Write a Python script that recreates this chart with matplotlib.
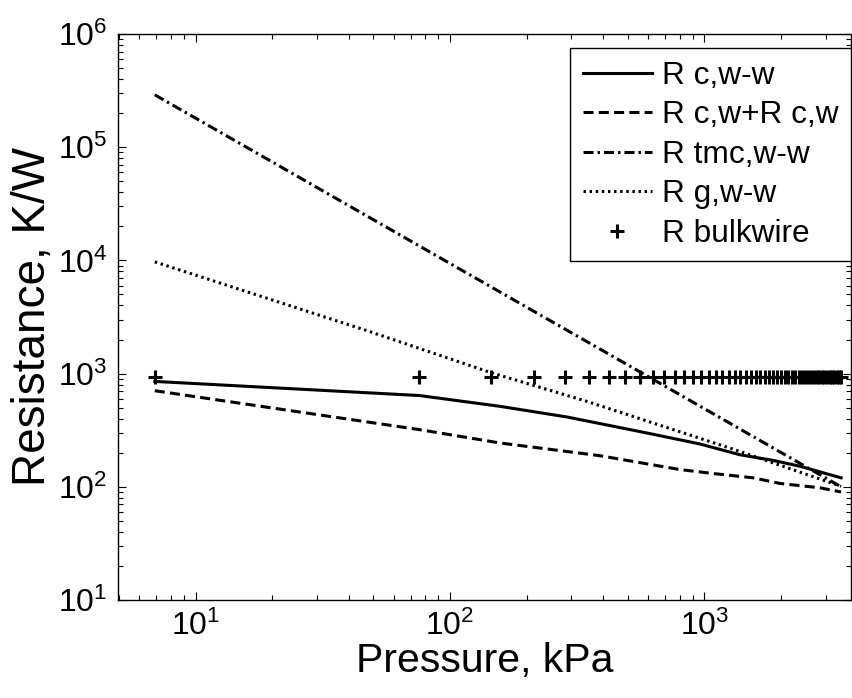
import matplotlib
matplotlib.use('Agg')
import matplotlib.pyplot as plt

plt.rcParams['font.family'] = ['Liberation Sans', 'DejaVu Sans']
plt.rcParams['mathtext.default'] = 'regular'

# pressure (kPa) where the bulk wire resistance was evaluated
p_bulk = [6.9, 75.8, 144.8, 213.7, 282.7, 351.6, 420.6, 489.5, 558.5, 627.4,
          696.4, 765.3, 834.3, 903.2, 972.2, 1041.1, 1110.1, 1179.0, 1248.0, 1316.9,
          1385.9, 1454.8, 1523.8, 1592.7, 1661.7, 1730.6, 1799.6, 1868.5, 1937.5, 2006.4,
          2075.4, 2144.3, 2213.3, 2282.2, 2351.2, 2420.1, 2489.1, 2558.0, 2627.0, 2695.9,
          2764.9, 2833.8, 2902.8, 2971.7, 3040.7, 3109.6, 3178.6, 3247.5, 3316.5, 3385.4,
          3454.4]
r_bulk = [930, 930, 930, 930, 930, 930, 930, 930, 930, 930,
          930, 930, 930, 930, 930, 930, 930, 930, 930, 930,
          930, 930, 930, 930, 930, 930, 930, 930, 930, 930,
          930, 930, 930, 930, 930, 930, 930, 930, 930, 930,
          930, 930, 930, 930, 930, 930, 930, 930, 930, 930,
          930]

# R c,w-w
p_cww = [6.9, 75.8, 157, 288, 594, 961, 1380, 1867, 2375, 3454]
r_cww = [853, 640, 514, 414, 299, 239, 192, 171, 152, 120]

# R c,w + R c,w
p_cw2 = [6.9, 75.8, 157, 390, 802, 1084, 1560, 1986, 2851, 3454]
r_cw2 = [706, 320, 244, 188, 142, 131, 120, 107, 98, 90]

# R tmc,w-w
p_tmc = [6.9, 75.8, 558.5, 3454]
r_tmc = [290000, 13400, 1036, 100]

# R g,w-w
p_g = [6.9, 47, 144.8, 344, 1300, 3454]
r_g = [9700, 2400, 1020, 570, 215, 101]

fig = plt.figure(figsize=(8.52, 6.98), dpi=100)
ax = fig.add_axes([0.1389, 0.1404, 0.860, 0.8109])

lw = 2.2
ax.plot(p_cww, r_cww, color='black', lw=lw, ls='-', label='R c,w-w')
ax.plot(p_cw2, r_cw2, color='black', lw=lw, ls=(0, (3.3, 1.7)), label='R c,w+R c,w')
ax.plot(p_tmc, r_tmc, color='black', lw=lw, ls=(0, (3.3, 1.3, 0.8, 1.3)), label='R tmc,w-w')
ax.plot(p_g, r_g, color='black', lw=lw, ls=(0, (0.8, 1.2)), label='R g,w-w')
ax.plot(p_bulk, r_bulk, color='black', ls='none', marker='+', ms=10, mew=2.2,
        label='R bulkwire')

ax.set_xscale('log')
ax.set_yscale('log')
ax.set_xlim(4.96, 3780)
ax.set_ylim(10, 1e6)

ax.tick_params(which='both', direction='in', top=True, right=True, width=0.8)
ax.tick_params(which='major', length=6, labelsize=23, pad=8)
ax.tick_params(which='minor', length=3.5)
for s in ax.spines.values():
    s.set_linewidth(1.0)

ax.set_xlabel('Pressure, kPa', fontsize=29.5, labelpad=0)
ax.set_ylabel('Resistance, K/W', fontsize=33, labelpad=2)

leg = ax.legend(loc='upper right', bbox_to_anchor=(1.0, 0.975), borderaxespad=0,
                fontsize=22.8, handlelength=2.2, handletextpad=0.3, labelspacing=0.3,
                fancybox=False, framealpha=1, edgecolor='black')
leg.get_frame().set_linewidth(1.0)

fig.savefig('out.png', dpi=100)
